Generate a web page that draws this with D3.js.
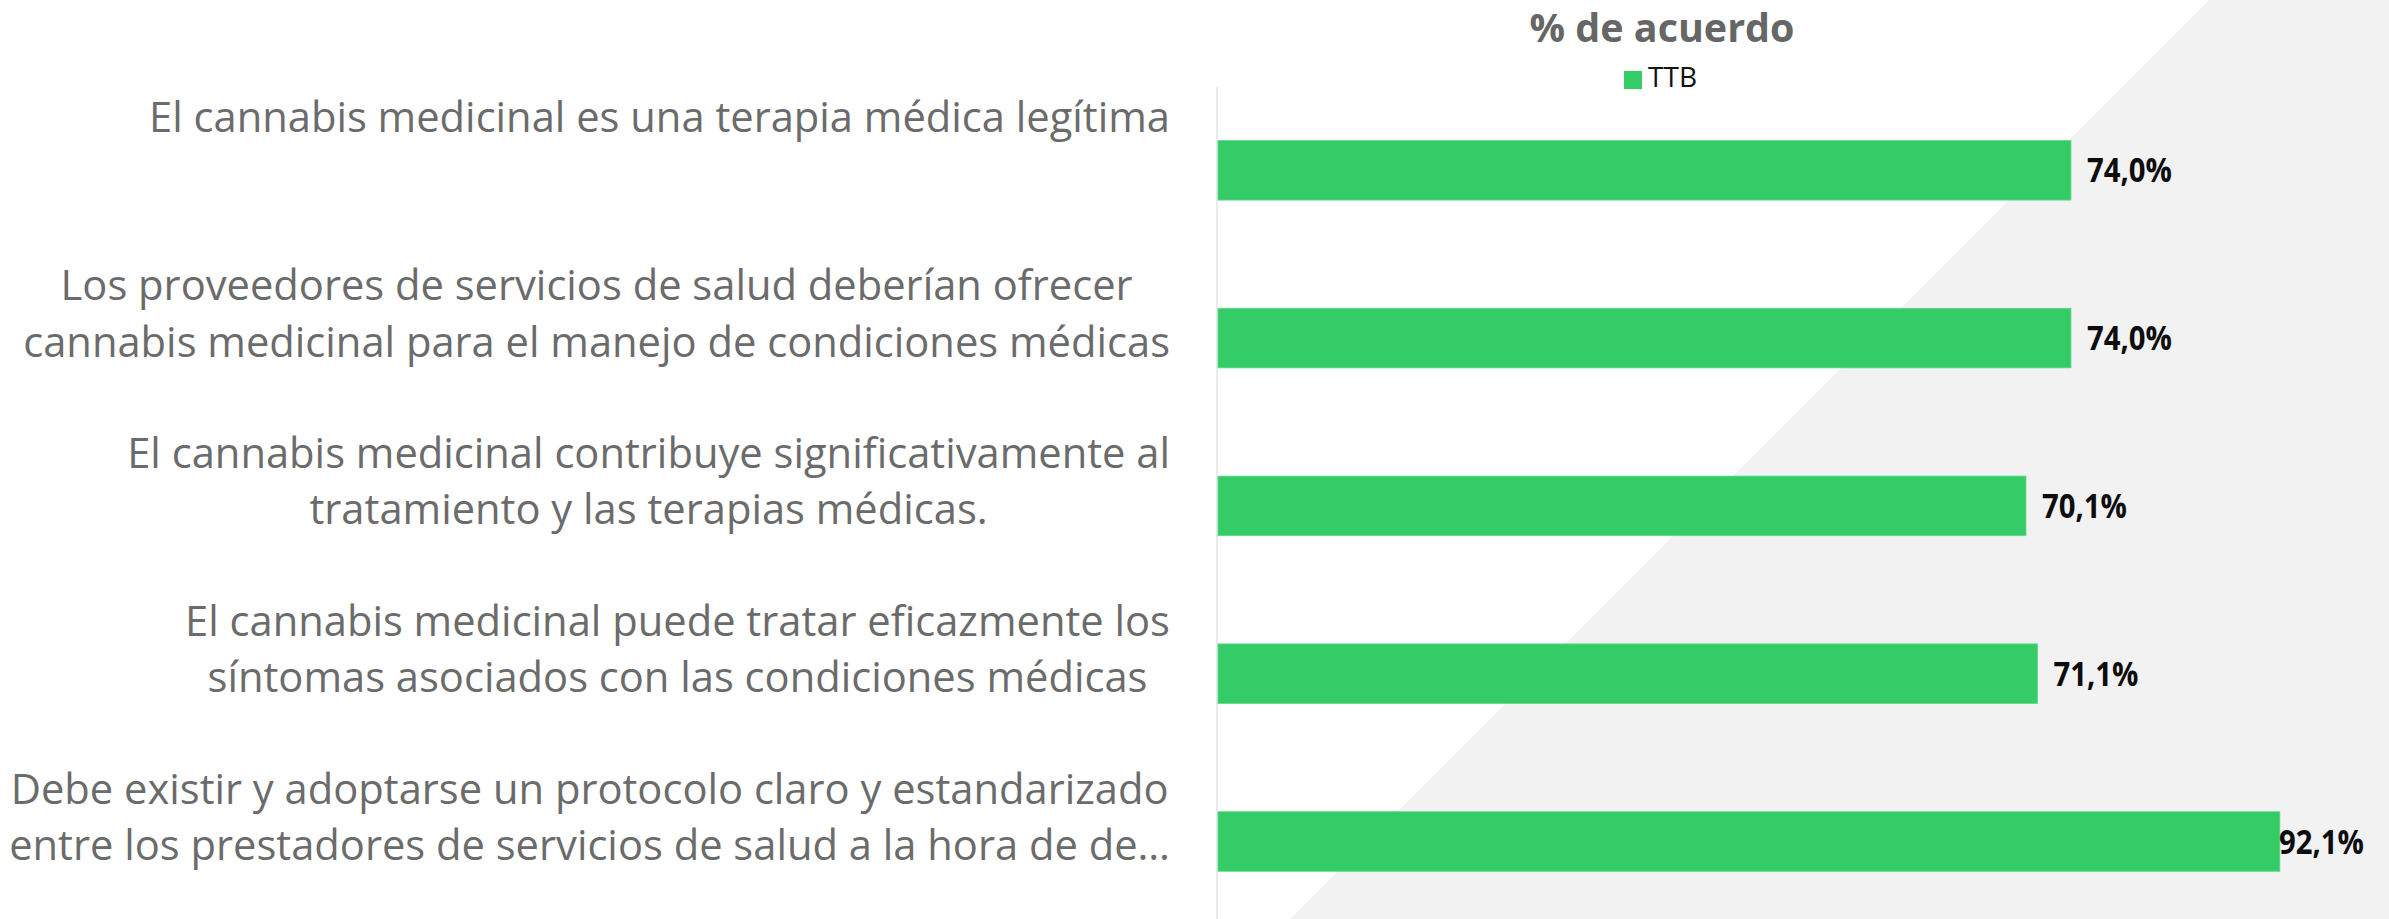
<!DOCTYPE html>
<html>
<head>
<meta charset="utf-8">
<script src="https://cdn.jsdelivr.net/npm/d3@7"></script>
<style>
  html, body { margin: 0; padding: 0; background: #ffffff; }
  svg { display: block; }
</style>
</head>
<body>
<svg id="chart" width="2389" height="919"></svg>
<script>
// ---- data ----
const categories = [
  "El cannabis medicinal es una terapia médica legítima",
  "Los proveedores de servicios de salud deberían ofrecer\ncannabis medicinal para el manejo de condiciones médicas",
  "El cannabis medicinal contribuye significativamente al\ntratamiento y las terapias médicas.",
  "El cannabis medicinal puede tratar eficazmente los\nsíntomas asociados con las condiciones médicas",
  "Debe existir y adoptarse un protocolo claro y estandarizado\nentre los prestadores de servicios de salud a la hora de de…"
];
const ttbValues = [74.0, 74.0, 70.1, 71.1, 92.1];
const seriesName = "TTB";
const chartTitle = "% de acuerdo";

// ---- layout ----
const W = 2389, H = 919;
const svg = d3.select("#chart");
const green = "#33cc66";
const labelFont = "'Open Sans', 'Noto Sans', sans-serif";

// diagonal background band
const bgTopX = 2209;
svg.append("polygon")
  .attr("points", [[bgTopX, 0], [W, 0], [W, H], [bgTopX - H, H]].map(p => p.join(",")).join(" "))
  .attr("fill", "#f2f2f2");

const x = d3.scaleLinear().domain([0, 100]).range([1217, 2371]);
const y = d3.scaleBand().domain(categories)
  .range([86.4, 925.4]).paddingInner(0.645).paddingOuter(0.3225);

const locale = d3.formatLocale({decimal: ",", thousands: ".", grouping: [3], currency: ["", "€"]});
const fmt = locale.format(".1f");

// axis line
const yAxis = d3.axisLeft(y).tickSize(0).tickFormat("");
const axG = svg.append("g").attr("transform", `translate(${x(0)},0)`).call(yAxis);
axG.select(".domain").attr("stroke", "#e3e3e3").attr("stroke-width", 1.5)
  .attr("d", `M0,87V${H}`);

// bars
svg.append("g").selectAll("rect").data(ttbValues).join("rect")
  .attr("x", x(0) + 1)
  .attr("y", (d, i) => y(categories[i]))
  .attr("width", d => x(d) - x(0) - 1)
  .attr("height", y.bandwidth())
  .attr("fill", green)
  .attr("stroke", "#5fd98a").attr("stroke-width", 0.8);

// value labels
const valG = svg.append("g");
const vals = valG.selectAll("text").data(ttbValues).join("text")
  .attr("y", (d, i) => y(categories[i]) + y.bandwidth() / 2 + 12)
  .attr("font-family", labelFont)
  .attr("font-weight", 700)
  .attr("font-size", 34)
  .attr("fill", "#0d0d0d")
  .text(d => fmt(d) + "%");
const valK = 85 / vals.node().getComputedTextLength();
const rightLimit = 2364;
vals.each(function (d) {
  const w = this.getComputedTextLength() * valK;
  d3.select(this)
    .attr("x", Math.min(x(d) + 16, rightLimit - w))
    .attr("textLength", w).attr("lengthAdjust", "spacingAndGlyphs");
});

// category labels
const catG = svg.append("g");
const lineGap = 56.5;
let labelK = null;
categories.forEach((c, i) => {
  const lines = c.split("\n");
  const cy = y(c) + y.bandwidth() / 2;
  const texts = lines.map((ln, j) => catG.append("text")
    .attr("y", cy - 38 + j * lineGap)
    .attr("font-family", labelFont)
    .attr("font-size", 42)
    .attr("fill", "#6b6b6b")
    .attr("text-anchor", "middle")
    .text(ln));
  if (labelK === null) labelK = 1021 / texts[0].node().getComputedTextLength();
  const widths = texts.map(t => t.node().getComputedTextLength() * labelK);
  const maxW = d3.max(widths);
  const cx = 1170 - maxW / 2;
  texts.forEach((t, j) => t.attr("x", cx).attr("textLength", widths[j]).attr("lengthAdjust", "spacingAndGlyphs"));
});

// title
const title = svg.append("text")
  .attr("x", 1662).attr("y", 42)
  .attr("text-anchor", "middle")
  .attr("font-family", labelFont)
  .attr("font-weight", 700)
  .attr("font-size", 39)
  .attr("fill", "#666666")
  .text(chartTitle);
title.attr("textLength", 265).attr("lengthAdjust", "spacingAndGlyphs");

// legend
const leg = svg.append("g");
leg.append("rect").attr("x", 1624).attr("y", 71).attr("width", 18).attr("height", 18).attr("fill", green);
leg.append("text").attr("x", 1648).attr("y", 87)
  .attr("font-family", labelFont).attr("font-size", 28).attr("fill", "#111111")
  .attr("textLength", 49).attr("lengthAdjust", "spacingAndGlyphs")
  .text(seriesName);
</script>
</body>
</html>
